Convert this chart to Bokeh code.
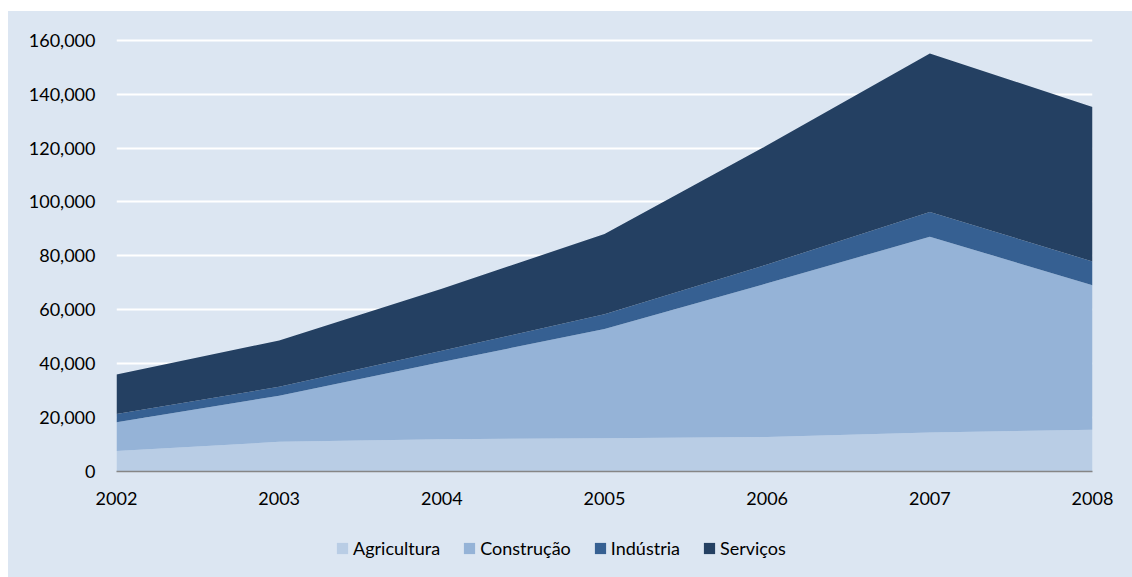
from bokeh.plotting import figure
from bokeh.models import (ColumnDataSource, Range1d, FixedTicker, NumeralTickFormatter,
                          Legend, LegendItem, Spacer)
from bokeh.layouts import column, row
from bokeh.embed import file_html
from bokeh.resources import INLINE

years = [2002, 2003, 2004, 2005, 2006, 2007, 2008]
agricultura = [7600, 11000, 12000, 12300, 12800, 14500, 15500]
construcao = [10700, 17100, 28600, 40600, 57000, 72600, 53600]
industria = [3000, 3300, 4200, 5400, 7000, 9200, 8800]
servicos = [14700, 17200, 23000, 29800, 44200, 58800, 57300]

series_names = ["Agricultura", "Construção", "Indústria", "Serviços"]
series_keys = ["agricultura", "construcao", "industria", "servicos"]
colors = ["#b9cde5", "#95b3d7", "#366092", "#244062"]
y_ticks = [0, 20000, 40000, 60000, 80000, 100000, 120000, 140000, 160000]

source = ColumnDataSource(dict(year=years, agricultura=agricultura, construcao=construcao,
                               industria=industria, servicos=servicos))

BG = "#dce6f2"
FONT = "Lato"
FS = "18px"

p = figure(width=1124, height=500, output_backend="svg", toolbar_location=None,
           x_range=Range1d(2002, 2008), y_range=Range1d(0, 161000),
           min_border_left=108, min_border_right=40, min_border_top=26, min_border_bottom=40)
p.background_fill_color = BG
p.border_fill_color = BG
p.outline_line_color = None

renderers = p.varea_stack(stackers=series_keys, x="year", color=colors, source=source)

p.xgrid.grid_line_color = None
p.ygrid.grid_line_color = "white"
p.ygrid.grid_line_width = 2
p.ygrid.ticker = FixedTicker(ticks=y_ticks)

p.yaxis.ticker = FixedTicker(ticks=y_ticks)
p.yaxis.formatter = NumeralTickFormatter(format="0,0")
p.yaxis.axis_line_color = None
p.yaxis.major_tick_line_color = None
p.yaxis.minor_tick_line_color = None
p.yaxis.major_label_standoff = 15
p.yaxis.major_label_text_font = FONT
p.yaxis.major_label_text_font_size = FS
p.yaxis.major_label_text_color = "#000000"

p.xaxis.ticker = FixedTicker(ticks=years)
p.xaxis.axis_line_color = "#868686"
p.xaxis.axis_line_width = 1.5
p.xaxis.major_tick_line_color = None
p.xaxis.minor_tick_line_color = None
p.xaxis.major_label_standoff = 14
p.xaxis.major_label_text_font = FONT
p.xaxis.major_label_text_font_size = FS
p.xaxis.major_label_text_color = "#000000"

# legend strip below the chart (swatches carry the same series colours)
pl = figure(width=1124, height=66, output_backend="svg", toolbar_location=None,
            x_range=Range1d(0, 1), y_range=Range1d(0, 1), min_border=0)
pl.background_fill_alpha = 0
pl.border_fill_color = BG
pl.outline_line_color = None
pl.axis.visible = False
pl.grid.visible = False
items = []
for name, c in zip(series_names, colors):
    r = pl.varea(x=[-2, -1], y1=[-2, -2], y2=[-1, -1], color=c)
    items.append(LegendItem(label=name, renderers=[r]))

legend = Legend(items=items, orientation="horizontal", location=(219, 18),
                background_fill_alpha=0, border_line_color=None,
                glyph_width=14, glyph_height=14, label_standoff=4, spacing=22,
                padding=0, margin=0, label_height=20,
                label_text_font=FONT, label_text_font_size=FS, label_text_color="#000000")
pl.add_layout(legend, "center")

chart = column(p, pl, styles={"background-color": BG})
layout = column(Spacer(height=11), row(Spacer(width=8), chart))
open("out.html", "w").write(file_html(layout, INLINE))
